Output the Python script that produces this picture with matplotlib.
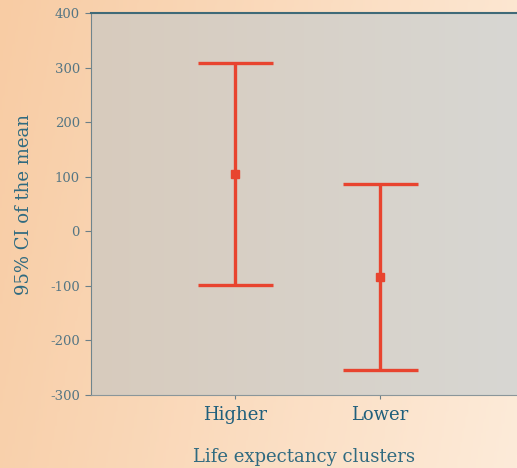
import matplotlib.pyplot as plt
import numpy as np
from matplotlib.colors import LinearSegmentedColormap

# Data
categories = ["Higher", "Lower"]
means = [105, -84]
upper = [308, 87]
lower = [-98, -254]

err_low = [m - lo for m, lo in zip(means, lower)]
err_high = [hi - m for m, hi in zip(means, upper)]

text_color = "#1f5f7c"
tick_color = "#557684"
bar_color = "#e8442f"

fig = plt.figure(figsize=(5.17, 4.68), dpi=100)

# peach background gradient over the whole figure
bg = fig.add_axes([0, 0, 1, 1], zorder=0)
gx, gy = np.meshgrid(np.linspace(0, 1, 200), np.linspace(0, 1, 200))
bg_cmap = LinearSegmentedColormap.from_list("peach", ["#f8cca4", "#fdebd9"])
bg.imshow(0.85 * gx + 0.15 * (1 - gy), cmap=bg_cmap, aspect="auto", extent=[0, 1, 0, 1], origin="lower")
bg.set_axis_off()

ax = fig.add_axes([0.176, 0.156, 0.824, 0.816], zorder=1)
ax.patch.set_alpha(0)
x = np.arange(1, len(categories) + 1)

# grey plot area gradient
pa_cmap = LinearSegmentedColormap.from_list("grey", ["#d7cbbd", "#d8d7d3"])
ax.imshow(np.linspace(0, 1, 200)[None, :], cmap=pa_cmap, aspect="auto",
          extent=[0, 2.95, -300, 400], zorder=0)

ax.errorbar(x, means, yerr=[err_low, err_high], fmt="s", color=bar_color,
            ecolor=bar_color, elinewidth=2.4, capsize=27, capthick=2.4,
            markersize=6, zorder=3)

ax.set_xlim(0, 2.95)
ax.set_ylim(-300, 400)
ax.set_yticks(np.arange(-300, 401, 100))
ax.set_yticklabels([str(v) for v in np.arange(-300, 401, 100)])
ax.set_xticks(x)
ax.set_xticklabels(categories)

ax.tick_params(axis="y", colors="#6b7f88", labelcolor=tick_color, labelsize=9.5,
               length=4, width=0.8, pad=4)
ax.tick_params(axis="x", colors="#6b7f88", labelcolor=text_color, labelsize=13,
               length=3, width=0.8, pad=5)
for lab in ax.get_yticklabels() + ax.get_xticklabels():
    lab.set_fontfamily("DejaVu Serif")

ax.spines["left"].set_color("#6f858d")
ax.spines["bottom"].set_color("#8a969a")
ax.spines["top"].set_color("#3f6a78")
ax.spines["top"].set_linewidth(1.5)
ax.spines["right"].set_visible(False)

ax.set_ylabel("95% CI of the mean", family="DejaVu Serif", fontsize=13,
              color="#2f6a80", labelpad=12)
ax.set_xlabel("Life expectancy clusters", family="DejaVu Serif", fontsize=13,
              color="#2f6a80", labelpad=17)

fig.savefig("out.png", dpi=100)
